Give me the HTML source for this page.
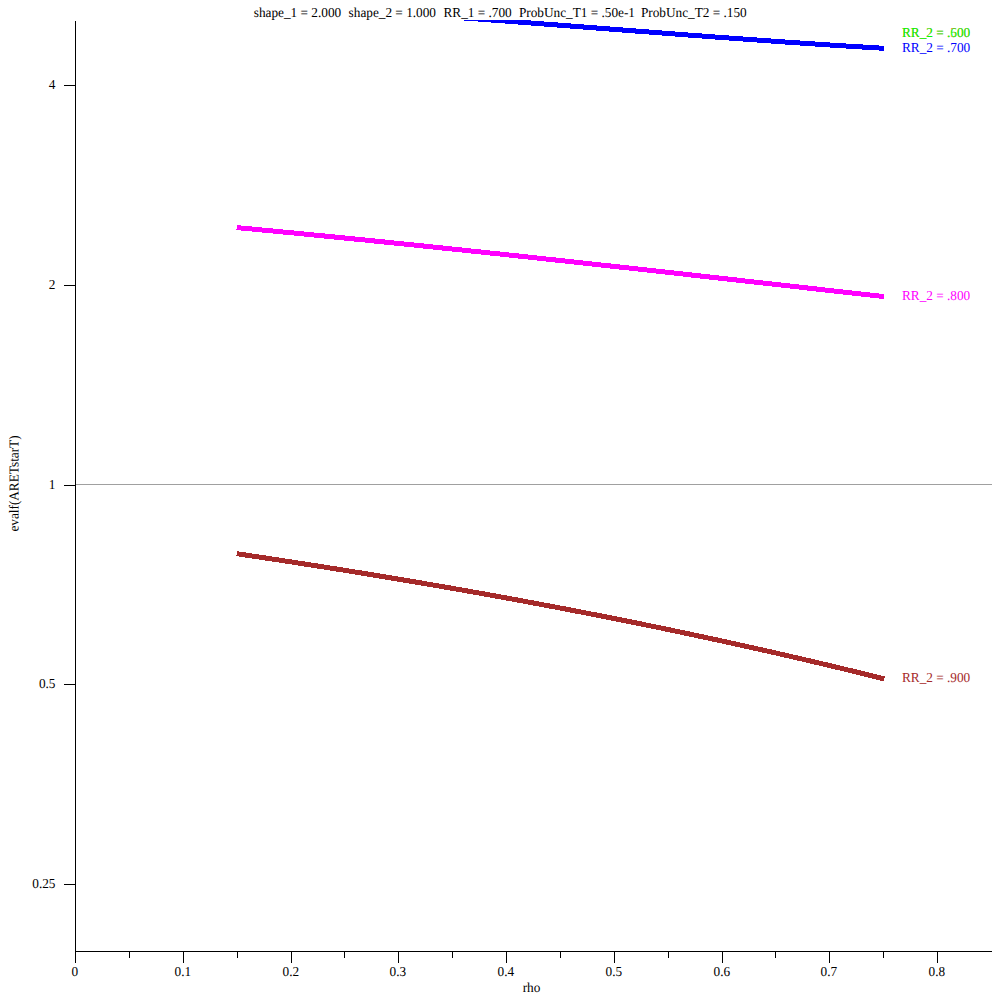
<!DOCTYPE html>
<html lang="en">
<head>
<meta charset="utf-8">
<title>evalf(ARETstarT) vs rho</title>
<style>
html,body{margin:0;padding:0;background:#fff;}
body{width:1000px;height:1000px;overflow:hidden;font-family:"Liberation Serif",serif;}
svg{display:block;}
text{white-space:pre;font-family:"Liberation Serif",serif;font-size:13.7px;fill:#000;}
.ax{fill:#000;shape-rendering:crispEdges;}
.curve{fill:none;stroke-width:5;stroke-linecap:butt;stroke-linejoin:round;shape-rendering:crispEdges;}
</style>
</head>
<body>
<svg width="1000" height="1000" viewBox="0 0 1000 1000">
<defs><clipPath id="plotclip"><rect x="0" y="20" width="1000" height="980"/></clipPath></defs>
<rect x="0" y="0" width="1000" height="1000" fill="#fff"/>

<text transform="translate(253.8,17) rotate(0.05) scale(0.969,1)" text-anchor="start">shape_1 = 2.000</text>
<text transform="translate(348.6,17) rotate(0.05) scale(0.969,1)" text-anchor="start">shape_2 = 1.000</text>
<text transform="translate(443.5,17) rotate(0.05) scale(0.969,1)" text-anchor="start">RR_1 = .700</text>
<text transform="translate(518.9,17) rotate(0.05) scale(0.969,1)" text-anchor="start">ProbUnc_T1 = .50e-1</text>
<text transform="translate(640.9,17) rotate(0.05) scale(0.969,1)" text-anchor="start">ProbUnc_T2 = .150</text>
<rect x="76" y="484" width="916" height="1" fill="#a0a0a0" shape-rendering="crispEdges"/>
<g clip-path="url(#plotclip)">
<polyline class="curve" stroke="#0000ff" points="236.7,4.02 248.6,4.59 260.6,5.18 272.6,5.79 284.6,6.42 296.6,7.08 308.6,7.76 320.6,8.45 332.6,9.17 344.6,9.90 356.6,10.65 368.6,11.42 380.6,12.20 392.5,12.99 404.5,13.80 416.5,14.63 428.5,15.46 440.5,16.31 452.5,17.17 464.5,18.04 476.5,18.91 488.5,19.80 500.5,20.69 512.5,21.59 524.5,22.50 536.4,23.41 548.4,24.32 560.4,25.24 572.4,26.16 584.4,27.08 596.4,28.00 608.4,28.92 620.4,29.84 632.4,30.76 644.4,31.68 656.4,32.60 668.4,33.51 680.3,34.41 692.3,35.31 704.3,36.21 716.3,37.09 728.3,37.97 740.3,38.84 752.3,39.70 764.3,40.55 776.3,41.39 788.3,42.22 800.3,43.03 812.2,43.83 824.2,44.61 836.2,45.38 848.2,46.14 860.2,46.87 872.2,47.59 884.2,48.29"/>
<polyline class="curve" stroke="#ff00ff" points="236.7,227.59 248.6,228.71 260.6,229.84 272.6,230.98 284.6,232.13 296.6,233.29 308.6,234.45 320.6,235.63 332.6,236.81 344.6,238.00 356.6,239.20 368.6,240.40 380.6,241.61 392.5,242.83 404.5,244.06 416.5,245.29 428.5,246.53 440.5,247.78 452.5,249.03 464.5,250.29 476.5,251.55 488.5,252.82 500.5,254.09 512.5,255.37 524.5,256.66 536.4,257.95 548.4,259.24 560.4,260.54 572.4,261.85 584.4,263.15 596.4,264.47 608.4,265.78 620.4,267.10 632.4,268.42 644.4,269.75 656.4,271.08 668.4,272.41 680.3,273.74 692.3,275.08 704.3,276.41 716.3,277.76 728.3,279.10 740.3,280.44 752.3,281.79 764.3,283.13 776.3,284.48 788.3,285.83 800.3,287.18 812.2,288.53 824.2,289.88 836.2,291.23 848.2,292.58 860.2,293.93 872.2,295.28 884.2,296.63"/>
<polyline class="curve" stroke="#a52a2a" points="236.7,553.67 248.6,555.45 260.6,557.25 272.6,559.07 284.6,560.90 296.6,562.75 308.6,564.61 320.6,566.49 332.6,568.39 344.6,570.31 356.6,572.24 368.6,574.19 380.6,576.16 392.5,578.15 404.5,580.16 416.5,582.18 428.5,584.23 440.5,586.29 452.5,588.37 464.5,590.48 476.5,592.60 488.5,594.75 500.5,596.92 512.5,599.10 524.5,601.31 536.4,603.54 548.4,605.79 560.4,608.07 572.4,610.37 584.4,612.69 596.4,615.03 608.4,617.39 620.4,619.78 632.4,622.20 644.4,624.64 656.4,627.10 668.4,629.58 680.3,632.10 692.3,634.63 704.3,637.20 716.3,639.78 728.3,642.40 740.3,645.04 752.3,647.70 764.3,650.40 776.3,653.12 788.3,655.87 800.3,658.64 812.2,661.44 824.2,664.28 836.2,667.13 848.2,670.02 860.2,672.94 872.2,675.89 884.2,678.86"/>
</g>
<rect class="ax" x="75" y="21" width="1" height="931"/>
<rect class="ax" x="75" y="951" width="917" height="1"/>
<rect class="ax" x="75" y="952" width="1" height="11"/>
<rect class="ax" x="183" y="952" width="1" height="11"/>
<rect class="ax" x="291" y="952" width="1" height="11"/>
<rect class="ax" x="398" y="952" width="1" height="11"/>
<rect class="ax" x="506" y="952" width="1" height="11"/>
<rect class="ax" x="614" y="952" width="1" height="11"/>
<rect class="ax" x="722" y="952" width="1" height="11"/>
<rect class="ax" x="829" y="952" width="1" height="11"/>
<rect class="ax" x="937" y="952" width="1" height="11"/>
<rect class="ax" x="129" y="952" width="1" height="6"/>
<rect class="ax" x="237" y="952" width="1" height="6"/>
<rect class="ax" x="344" y="952" width="1" height="6"/>
<rect class="ax" x="452" y="952" width="1" height="6"/>
<rect class="ax" x="560" y="952" width="1" height="6"/>
<rect class="ax" x="668" y="952" width="1" height="6"/>
<rect class="ax" x="775" y="952" width="1" height="6"/>
<rect class="ax" x="883" y="952" width="1" height="6"/>
<rect class="ax" x="64" y="85" width="11" height="1"/>
<rect class="ax" x="64" y="285" width="11" height="1"/>
<rect class="ax" x="64" y="485" width="11" height="1"/>
<rect class="ax" x="64" y="684" width="11" height="1"/>
<rect class="ax" x="64" y="884" width="11" height="1"/>
<text transform="translate(74.8,976) rotate(0.05) scale(0.969,1)" text-anchor="middle">0</text>
<text transform="translate(182.8,976) rotate(0.05) scale(0.969,1)" text-anchor="middle">0.1</text>
<text transform="translate(290.8,976) rotate(0.05) scale(0.969,1)" text-anchor="middle">0.2</text>
<text transform="translate(397.8,976) rotate(0.05) scale(0.969,1)" text-anchor="middle">0.3</text>
<text transform="translate(505.8,976) rotate(0.05) scale(0.969,1)" text-anchor="middle">0.4</text>
<text transform="translate(613.8,976) rotate(0.05) scale(0.969,1)" text-anchor="middle">0.5</text>
<text transform="translate(721.8,976) rotate(0.05) scale(0.969,1)" text-anchor="middle">0.6</text>
<text transform="translate(828.8,976) rotate(0.05) scale(0.969,1)" text-anchor="middle">0.7</text>
<text transform="translate(936.8,976) rotate(0.05) scale(0.969,1)" text-anchor="middle">0.8</text>
<text transform="translate(55.5,89.1) rotate(0.05) scale(0.969,1)" text-anchor="end">4</text>
<text transform="translate(55.5,289.1) rotate(0.05) scale(0.969,1)" text-anchor="end">2</text>
<text transform="translate(55.5,489.1) rotate(0.05) scale(0.969,1)" text-anchor="end">1</text>
<text transform="translate(55.5,688.1) rotate(0.05) scale(0.969,1)" text-anchor="end">0.5</text>
<text transform="translate(55.5,888.1) rotate(0.05) scale(0.969,1)" text-anchor="end">0.25</text>
<text transform="translate(531.5,992) rotate(0.05) scale(0.969,1)" text-anchor="middle">rho</text>
<text transform="translate(18.5,483.5) rotate(-89.95) scale(0.969,1)" text-anchor="middle">evalf(ARETstarT)</text>
<text transform="translate(902,37) rotate(0.05) scale(0.969,1)" text-anchor="start" style="fill:#ff0000" opacity="0.6">RR_2 = .500</text>
<text transform="translate(902,37) rotate(0.05) scale(0.969,1)" text-anchor="start" style="fill:#00ff00">RR_2 = .600</text>
<text transform="translate(902,52) rotate(0.05) scale(0.969,1)" text-anchor="start" style="fill:#0000ff">RR_2 = .700</text>
<text transform="translate(902,300) rotate(0.05) scale(0.969,1)" text-anchor="start" style="fill:#ff00ff">RR_2 = .800</text>
<text transform="translate(902,682) rotate(0.05) scale(0.969,1)" text-anchor="start" style="fill:#a52a2a">RR_2 = .900</text>
</svg>
</body>
</html>
